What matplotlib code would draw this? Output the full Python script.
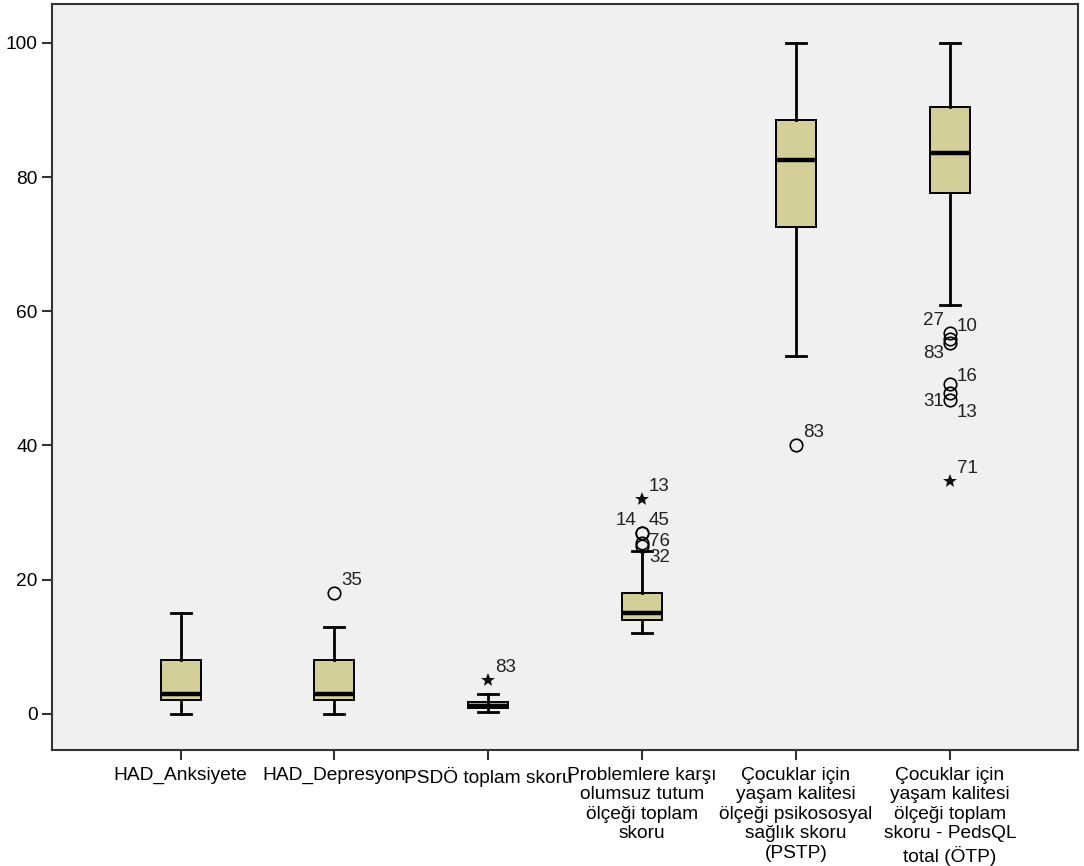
import matplotlib
matplotlib.use("Agg")
import matplotlib.pyplot as plt
import numpy as np

plt.rcParams['font.family'] = ['Liberation Sans', 'DejaVu Sans']

# scale names shown under each box
labels = [
    "HAD_Anksiyete",
    "HAD_Depresyon",
    "PSDÖ toplam skoru",
    "Problemlere karşı\nolumsuz tutum\nölçeği toplam\nskoru",
    "Çocuklar için\nyaşam kalitesi\nölçeği psikososyal\nsağlık skoru\n(PSTP)",
    "Çocuklar için\nyaşam kalitesi\nölçeği toplam\nskoru - PedsQL\ntotal (ÖTP)",
]

# five-number summaries per scale
whis_lo = [0, 0, 0.3, 12, 53.3, 61]
q1 = [2, 2, 0.8, 14, 72.6, 77.6]
median = [3, 3, 1.2, 15, 82.6, 83.6]
q3 = [8, 8, 1.8, 18, 88.5, 90.4]
whis_hi = [15, 13, 3, 24.3, 100, 100]

# outliers (circle) and extremes (star): (box index, value, case id)
mild = [
    (2, 18, "35"),
    (4, 27, "14"), (4, 27, "45"), (4, 25.5, "76"), (4, 25, "32"),
    (5, 40, "83"),
    (6, 56.8, "27"), (6, 55.8, "10"), (6, 55.3, "83"),
    (6, 49.2, "16"), (6, 47.8, "31"), (6, 46.8, "13"),
]
extreme = [
    (3, 5, "83"),
    (4, 32, "13"),
    (6, 34.7, "71"),
]

# label placement for case ids (side, vertical shift in points)
mild_lab = [
    ('r', 9),
    ('l', 9), ('r', 9), ('r', 1), ('r', -8),
    ('r', 9),
    ('l', 9), ('r', 9), ('l', -8),
    ('r', 5), ('l', -6), ('r', -9),
]
extreme_lab = [('r', 9), ('r', 9), ('r', 9)]

fig = plt.figure(figsize=(10.84, 8.66), dpi=100)
ax = fig.add_axes([0.048, 0.134, 0.9467, 0.8614])
ax.set_facecolor('#F0F0F0')

stats = []
for i in range(len(labels)):
    stats.append(dict(med=median[i], q1=q1[i], q3=q3[i],
                      whislo=whis_lo[i], whishi=whis_hi[i], fliers=[]))

pos = np.arange(1, len(labels) + 1)
ax.bxp(stats, positions=pos, widths=0.26, patch_artist=True, showfliers=False,
       boxprops=dict(facecolor='#D4CF98', edgecolor='black', linewidth=1.4),
       medianprops=dict(color='black', linewidth=3.2, solid_capstyle='butt'),
       whiskerprops=dict(color='black', linewidth=2),
       capprops=dict(color='black', linewidth=2),
       capwidths=0.13)

def put_label(x, y, text, side, dy):
    if side == 'r':
        ax.annotate(text, (x, y), xytext=(5, dy), textcoords='offset points',
                    ha='left', va='center', fontsize=13.5, color='#222222')
    else:
        ax.annotate(text, (x, y), xytext=(-4, dy), textcoords='offset points',
                    ha='right', va='center', fontsize=13.5, color='#222222')

for (b, v, cid), (side, dy) in zip(mild, mild_lab):
    ax.plot(b, v, 'o', markersize=9, markerfacecolor='none',
            markeredgecolor='black', markeredgewidth=1.2)
    put_label(b, v, cid, side, dy)

for (b, v, cid), (side, dy) in zip(extreme, extreme_lab):
    ax.plot(b, v, '*', markersize=10, color='#111111', markeredgewidth=0)
    put_label(b, v, cid, side, dy)

ax.set_xlim(1 - 0.835, 6 + 0.835)
ax.set_ylim(-5.4, 105.8)
ax.set_yticks([0, 20, 40, 60, 80, 100])
ax.set_xticks(pos)
ax.set_xticklabels(labels, fontsize=13.8, linespacing=1.2)
ax.tick_params(axis='y', labelsize=13.8, length=7, width=1.5, color='#333333')
ax.tick_params(axis='x', length=7, width=1.5, color='#333333', pad=5)
for s in ax.spines.values():
    s.set_color('#333333')
    s.set_linewidth(1.5)

fig.savefig('out.png', dpi=100)
